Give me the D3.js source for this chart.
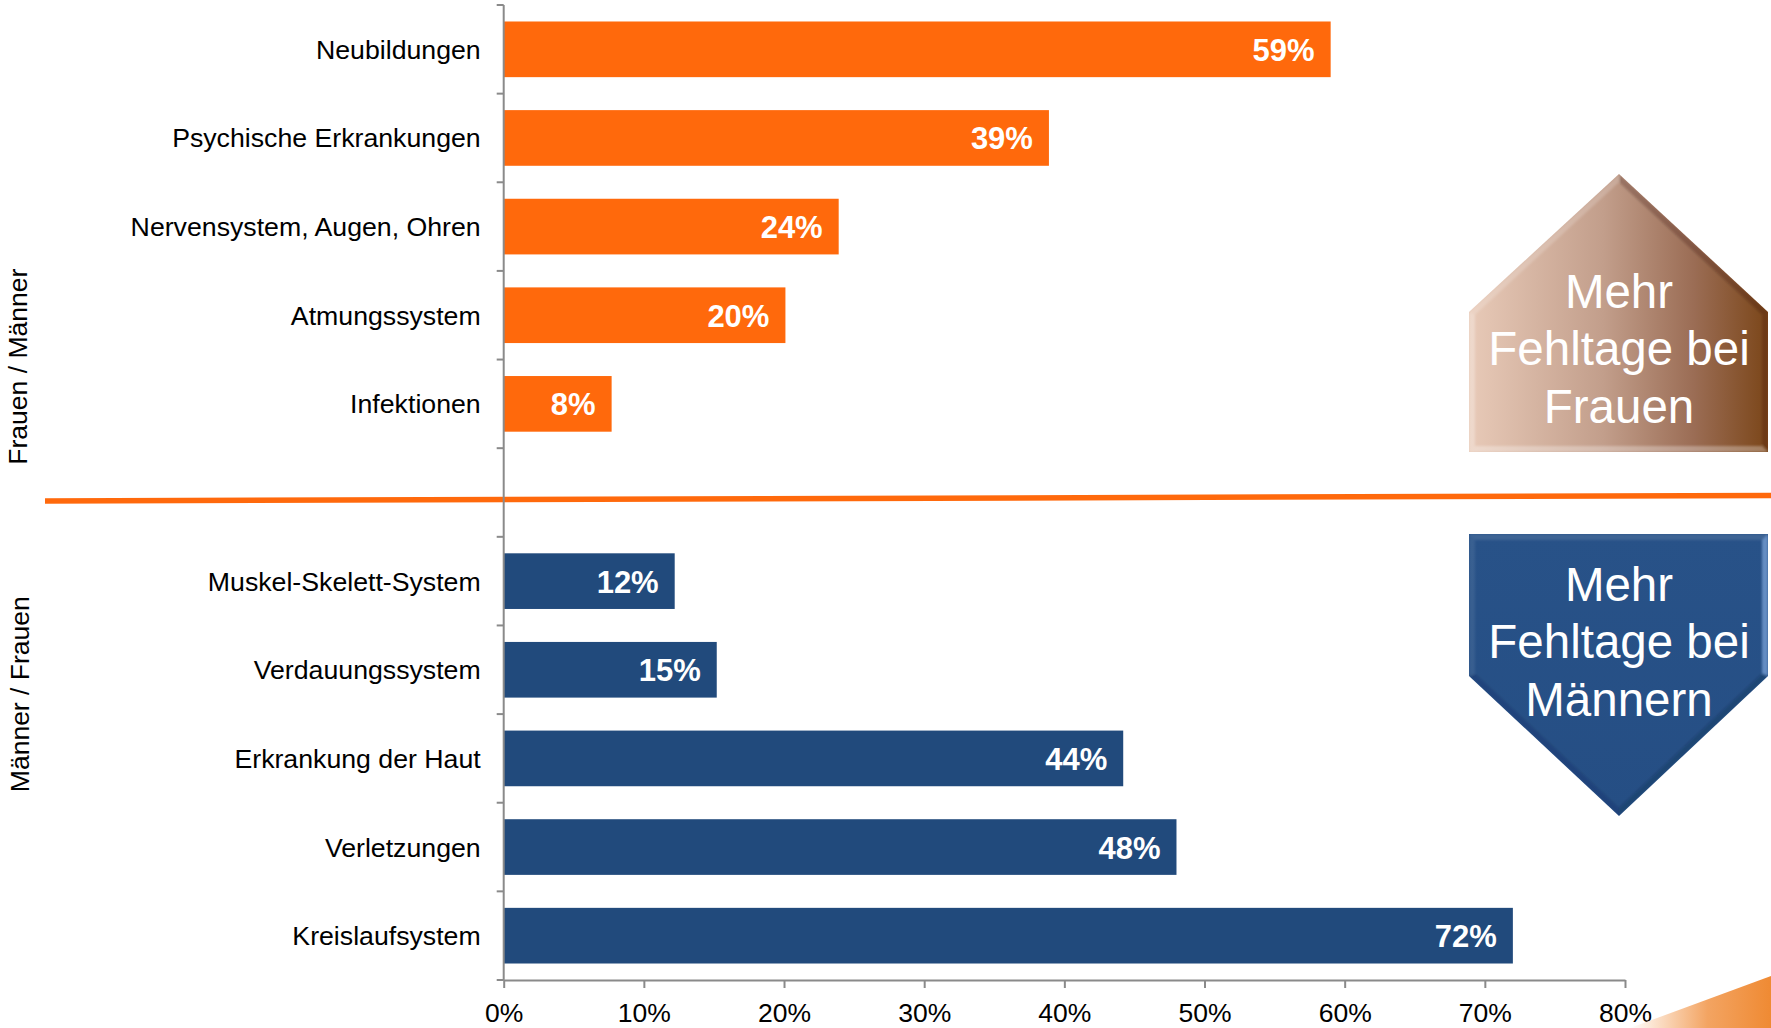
<!DOCTYPE html>
<html>
<head>
<meta charset="utf-8">
<script src="https://d3js.org/d3.v7.min.js"></script>
<style>
  html, body { margin: 0; padding: 0; background: #ffffff; }
  svg { display: block; }
  text { font-family: "Liberation Sans", Arial, Helvetica, sans-serif; }
</style>
</head>
<body>
<svg id="chart" width="1771" height="1028"></svg>
<script>
// ---------- DATA ----------
const categoriesTop = ["Neubildungen", "Psychische Erkrankungen", "Nervensystem, Augen, Ohren", "Atmungssystem", "Infektionen"];
const valuesTop = [0.59, 0.389, 0.239, 0.201, 0.077];
const categoriesBottom = ["Muskel-Skelett-System", "Verdauungssystem", "Erkrankung der Haut", "Verletzungen", "Kreislaufsystem"];
const valuesBottom = [0.122, 0.152, 0.442, 0.48, 0.72];
const xTickValues = [0, 0.1, 0.2, 0.3, 0.4, 0.5, 0.6, 0.7, 0.8];
const groupTitles = ["Frauen / Männer", "Männer / Frauen"];
const calloutTop = ["Mehr", "Fehltage bei", "Frauen"];
const calloutBottom = ["Mehr", "Fehltage bei", "Männern"];

// ---------- LAYOUT ----------
const W = 1771, H = 1028;
const plot = { left: 503.7, right: 1625, top: 5, bottom: 980 };
const colOrange = "#FF690C";
const colBlue = "#214A7C";
const axisGray = "#8A8A8A";

const svg = d3.select("#chart");

const GAP = "__gap__";
const yDomain = [...categoriesTop, GAP, ...categoriesBottom];
const rows = [
  ...categoriesTop.map((c, i) => ({ cat: c, v: valuesTop[i], color: colOrange })),
  ...categoriesBottom.map((c, i) => ({ cat: c, v: valuesBottom[i], color: colBlue }))
];

const y = d3.scaleBand()
  .domain(yDomain)
  .range([plot.top, plot.bottom])
  .paddingInner(0.372)
  .paddingOuter(0.186);

const x = d3.scaleLinear().domain([0, 0.8]).range([plot.left, plot.right]);

const defs = svg.append("defs");

// ---------- separator line ----------
svg.append("line")
  .attr("x1", 45).attr("y1", 501)
  .attr("x2", W).attr("y2", 495.5)
  .attr("stroke", colOrange)
  .attr("stroke-width", 5.5);

// ---------- bars ----------
svg.append("g").selectAll("rect")
  .data(rows)
  .join("rect")
  .attr("x", x(0))
  .attr("y", d => y(d.cat))
  .attr("width", d => x(d.v) - x(0))
  .attr("height", y.bandwidth())
  .attr("fill", d => d.color);

// value labels
const fmt = d3.format(".0%");
svg.append("g").selectAll("text")
  .data(rows)
  .join("text")
  .attr("x", d => x(d.v) - 16)
  .attr("y", d => y(d.cat) + y.bandwidth() / 2 + 11.5)
  .attr("text-anchor", "end")
  .attr("fill", "#ffffff")
  .attr("font-weight", "bold")
  .attr("font-size", "31px")
  .text(d => fmt(d.v));

// ---------- y axis (Excel style: ticks between categories) ----------
const yAxis = svg.append("g");
const step = y.step();
const boundaries = d3.range(yDomain.length + 1).map(i => plot.top + i * step);
yAxis.append("line")
  .attr("x1", plot.left).attr("x2", plot.left)
  .attr("y1", plot.top).attr("y2", plot.bottom)
  .attr("stroke", axisGray).attr("stroke-width", 2);
yAxis.selectAll("line.tick")
  .data(boundaries)
  .join("line")
  .attr("class", "tick")
  .attr("x1", plot.left - 7).attr("x2", plot.left)
  .attr("y1", d => d).attr("y2", d => d)
  .attr("stroke", axisGray).attr("stroke-width", 2);
yAxis.selectAll("text")
  .data(yDomain.filter(d => d !== GAP))
  .join("text")
  .attr("x", plot.left - 23)
  .attr("y", d => y(d) + y.bandwidth() / 2 + 9.5)
  .attr("text-anchor", "end")
  .attr("font-size", "26.7px")
  .attr("fill", "#000")
  .text(d => d);

// ---------- x axis ----------
const xAxis = svg.append("g")
  .attr("transform", `translate(0,${plot.bottom})`)
  .call(d3.axisBottom(x).tickValues(xTickValues).tickFormat(fmt).tickSize(8).tickSizeOuter(0));
xAxis.select(".domain").attr("stroke", axisGray).attr("stroke-width", 2);
xAxis.selectAll(".tick line").attr("stroke", axisGray).attr("stroke-width", 2);
xAxis.selectAll(".tick text")
  .attr("font-size", "26.5px")
  .attr("font-family", "'Liberation Sans', Arial, sans-serif")
  .attr("fill", "#000")
  .attr("dy", 0)
  .attr("y", 41.5);

// ---------- group titles ----------
const titlePos = [[27, 366.7], [29.3, 694.2]];
svg.append("g").selectAll("text")
  .data(groupTitles)
  .join("text")
  .attr("transform", (d, i) => `translate(${titlePos[i][0]},${titlePos[i][1]}) rotate(-90)`)
  .attr("text-anchor", "middle")
  .attr("font-size", "26.5px")
  .attr("fill", "#000")
  .text(d => d);

// ---------- callout shapes ----------
function insetPolygon(pts, d) {
  const n = pts.length;
  const cx = d3.mean(pts, p => p[0]), cy = d3.mean(pts, p => p[1]);
  const lines = [];
  for (let i = 0; i < n; i++) {
    const a = pts[i], b = pts[(i + 1) % n];
    let ux = b[0] - a[0], uy = b[1] - a[1];
    const L = Math.hypot(ux, uy); ux /= L; uy /= L;
    let nx = -uy, ny = ux;
    const mx = (a[0] + b[0]) / 2, my = (a[1] + b[1]) / 2;
    if ((cx - mx) * nx + (cy - my) * ny < 0) { nx = -nx; ny = -ny; }
    lines.push({ p: [a[0] + nx * d, a[1] + ny * d], u: [ux, uy] });
  }
  const out = [];
  for (let i = 0; i < n; i++) {
    const l1 = lines[(i - 1 + n) % n], l2 = lines[i];
    const cr = (ax, ay, bx, by) => ax * by - ay * bx;
    const dx = l2.p[0] - l1.p[0], dy = l2.p[1] - l1.p[1];
    const t = cr(dx, dy, l2.u[0], l2.u[1]) / cr(l1.u[0], l1.u[1], l2.u[0], l2.u[1]);
    out.push([l1.p[0] + l1.u[0] * t, l1.p[1] + l1.u[1] * t]);
  }
  return out;
}

defs.append("filter").attr("id", "soft")
  .append("feGaussianBlur").attr("stdDeviation", 1.2);

function drawCallout(pts, fill, edgeStyles, lines, baselines, cxText, clipId) {
  const g = svg.append("g");
  defs.append("clipPath").attr("id", clipId)
    .append("polygon").attr("points", pts.map(p => p.join(",")).join(" "));
  g.append("polygon")
    .attr("points", pts.map(p => p.join(",")).join(" "))
    .attr("fill", fill);
  const inner = insetPolygon(pts, 6);
  const n = pts.length;
  const bev = g.append("g").attr("clip-path", `url(#${clipId})`)
    .append("g").attr("filter", "url(#soft)");
  for (let i = 0; i < n; i++) {
    const j = (i + 1) % n;
    const quad = [pts[i], pts[j], inner[j], inner[i]];
    bev.append("polygon")
      .attr("points", quad.map(p => p.join(",")).join(" "))
      .attr("fill", edgeStyles[i][0])
      .attr("fill-opacity", edgeStyles[i][1]);
  }
  g.selectAll("text.callout")
    .data(lines)
    .join("text")
    .attr("class", "callout")
    .attr("x", cxText)
    .attr("y", (d, i) => baselines[i])
    .attr("text-anchor", "middle")
    .attr("font-size", "47.5px")
    .attr("fill", "#ffffff")
    .text(d => d);
}

const gradBrown = defs.append("linearGradient").attr("id", "gradBrown")
  .attr("x1", "0%").attr("x2", "100%").attr("y1", "0%").attr("y2", "0%");
gradBrown.append("stop").attr("offset", "0%").attr("stop-color", "#E8CAB8");
gradBrown.append("stop").attr("offset", "45%").attr("stop-color", "#C29E8B");
gradBrown.append("stop").attr("offset", "75%").attr("stop-color", "#9B6D55");
gradBrown.append("stop").attr("offset", "100%").attr("stop-color", "#7B4619");

const gradBlue = defs.append("linearGradient").attr("id", "gradBlue")
  .attr("x1", "0%").attr("x2", "0%").attr("y1", "0%").attr("y2", "100%");
gradBlue.append("stop").attr("offset", "0%").attr("stop-color", "#285288");
gradBlue.append("stop").attr("offset", "100%").attr("stop-color", "#254E84");

const housePts = [[1619, 174], [1768, 312], [1768, 452], [1469, 452], [1469, 312]];
drawCallout(housePts, "url(#gradBrown)",
  [["#2a1000", 0.22], ["#2a1000", 0.18], ["#ffffff", 0.3], ["#ffffff", 0.28], ["#ffffff", 0.18]],
  calloutTop, [307.6, 365, 423], 1619, "clipHouse");

const chevronPts = [[1469, 534], [1768, 534], [1768, 676], [1619, 816], [1469, 676]];
drawCallout(chevronPts, "url(#gradBlue)",
  [["#ffffff", 0.1], ["#8db4ea", 0.6], ["#0a1e3c", 0.22], ["#0a1e3c", 0.15], ["#ffffff", 0.08]],
  calloutBottom, [601, 658.4, 715.6], 1619, "clipChevron");

// ---------- decorative corner swoosh ----------
const gradSwoosh = defs.append("linearGradient").attr("id", "gradSwoosh")
  .attr("gradientUnits", "userSpaceOnUse")
  .attr("x1", 1630).attr("x2", 1771).attr("y1", 0).attr("y2", 0);
gradSwoosh.append("stop").attr("offset", "0%").attr("stop-color", "#ffffff");
gradSwoosh.append("stop").attr("offset", "55%").attr("stop-color", "#F3A462");
gradSwoosh.append("stop").attr("offset", "100%").attr("stop-color", "#EF8A33");
svg.append("polygon")
  .attr("points", "1630,1028 1771,976 1771,1028")
  .attr("fill", "url(#gradSwoosh)");
</script>
</body>
</html>
